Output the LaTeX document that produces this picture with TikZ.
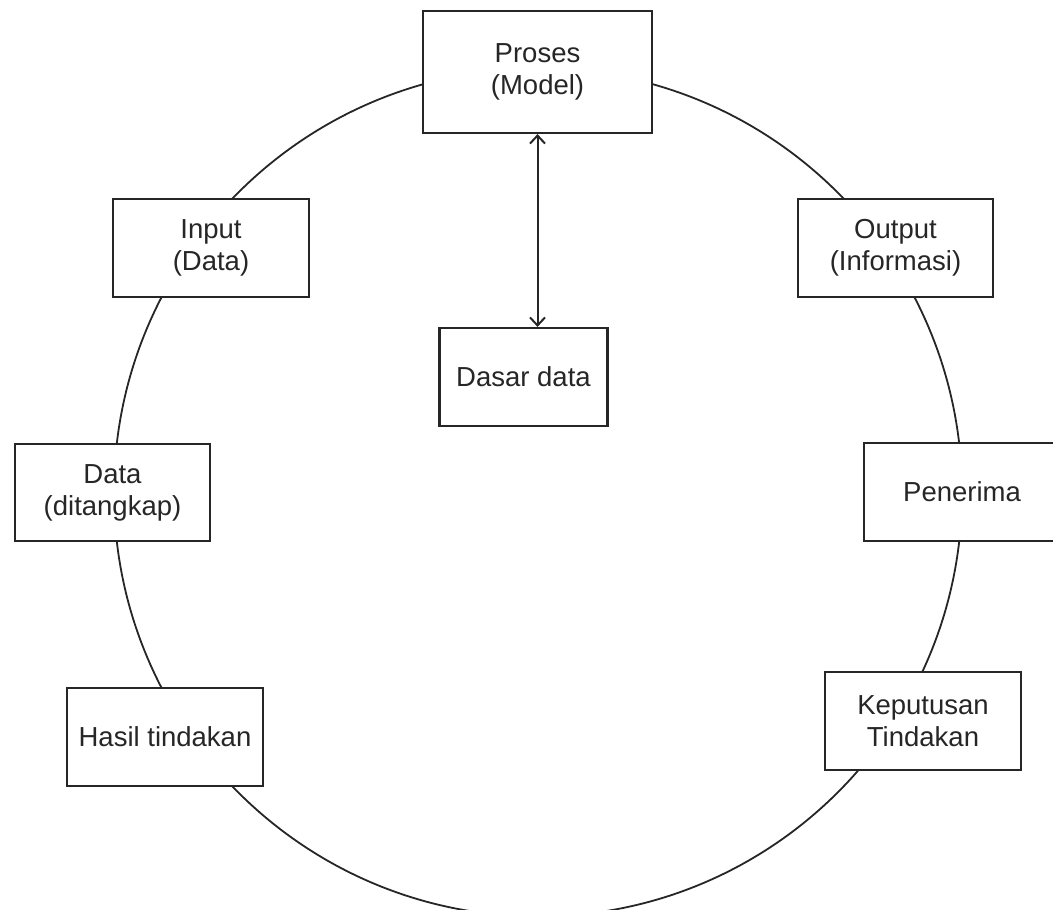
\documentclass[tikz,border=0pt]{standalone}
\usepackage{fontspec}
\setmainfont{Liberation Sans}
\usetikzlibrary{arrows.meta}
\definecolor{ink}{HTML}{262626}
\tikzset{
  box/.style={draw=ink, line width=2.2pt, fill=white, rectangle, inner sep=0pt,
    align=center, text=ink, font=\fontsize{27.5}{32}\selectfont},
  ring/.style={draw=ink, line width=1.8pt},
  link/.style={draw=ink, line width=2pt, {Straight Barb[length=8pt,width=15pt]}-{Straight Barb[length=8pt,width=15pt]}}
}
\begin{document}
\begin{tikzpicture}[x=1pt,y=-1pt]
\useasboundingbox (0,0) rectangle (1053,910);
\clip (0,0) rectangle (1053,910);
\fill[white] (0,0) rectangle (1053,910);
\draw[ring] (538,492.5) circle[radius=424];
\node[box, minimum width=229pt, minimum height=122pt] (proses) at (537.5,72) {Proses\\(Model)};
\node[box, minimum width=196pt, minimum height=98pt] (input) at (211,248) {Input\\(Data)};
\node[box, minimum width=195pt, minimum height=98pt] (output) at (895.5,248) {Output\\(Informasi)};
\node[box, minimum width=168pt, minimum height=98pt] (dasar) at (523.5,377) {Dasar data};
\node[box, minimum width=195pt, minimum height=97pt] (data) at (112.5,492.5) {Data\\(ditangkap)};
\node[box, minimum width=196pt, minimum height=98pt] (penerima) at (962,492) {Penerima};
\node[box, minimum width=196pt, minimum height=98pt] (hasil) at (165,737) {Hasil tindakan};
\node[box, minimum width=196pt, minimum height=98pt] (keputusan) at (923,721) {Keputusan\\Tindakan};
\draw[link] (proses.south) -- (proses.south |- dasar.north);
\end{tikzpicture}
\end{document}
